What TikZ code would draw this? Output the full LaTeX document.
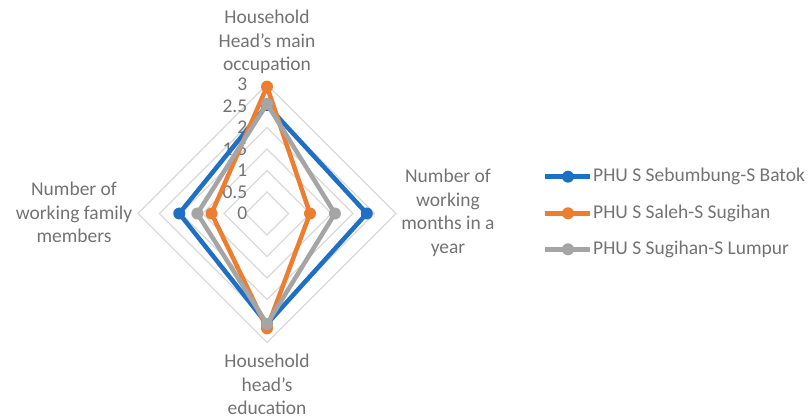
\documentclass[tikz,border=0pt]{standalone}
\usepackage{fontspec}
\setmainfont{Carlito}
\definecolor{sblue}{RGB}{31,112,196}
\definecolor{sorange}{RGB}{237,125,49}
\definecolor{sgray}{RGB}{165,165,165}
\definecolor{gridc}{RGB}{217,217,217}
\definecolor{txtc}{RGB}{115,115,115}
\tikzset{
  gridline/.style={draw=gridc, line width=1.1pt},
  axlabel/.style={text=txtc, align=center, inner sep=0pt, font=\fontsize{19.5}{23.6}\selectfont},
  ticklabel/.style={text=txtc, anchor=east, inner sep=0pt, font=\fontsize{19.5}{23.6}\selectfont},
  legtext/.style={text=txtc, anchor=west, inner sep=0pt, font=\fontsize{19.5}{23.6}\selectfont},
  series/.style={line width=4.5pt, line join=round, line cap=round},
  dot/.style={circle, fill=#1, minimum size=12pt, inner sep=0pt}
}
\begin{document}
\begin{tikzpicture}[x=1pt,y=-1pt]
\useasboundingbox (0,0) rectangle (812,419);
\def\cx{267}
\def\cy{213.5}
\def\u{43}
% grid rings
\foreach \k in {1,...,6}{
  \draw[gridline] (\cx,{\cy-\k*0.5*\u}) -- ({\cx+\k*0.5*\u},\cy) -- (\cx,{\cy+\k*0.5*\u}) -- ({\cx-\k*0.5*\u},\cy) -- cycle;
}
% tick labels
\foreach \v/\t [count=\i] in {0/0,0.5/0.5,1/1,1.5/1.5,2/2,2.5/2.5,3/3}{
  \node[ticklabel] (tick\i) at (247.5,{\cy-\v*\u}) {\t};
}
% axis labels
\node[axlabel] (ltop) at (267,42) {Household\\Head’s main\\occupation};
\node[axlabel] (lleft) at (74,212.5) {Number of\\working family\\members};
\node[axlabel] (lright) at (448,213) {Number of\\working\\months in a\\year};
\node[axlabel] (lbottom) at (267,384.5) {Household\\head’s\\education};
% data coordinates
\foreach \name/\t/\r/\b/\l in {b/2.52/2.32/2.57/2.04, o/2.95/1.00/2.67/1.29, g/2.55/1.58/2.57/1.62}{
  \coordinate (\name1) at (\cx,{\cy-\t*\u});
  \coordinate (\name2) at ({\cx+\r*\u},\cy);
  \coordinate (\name3) at (\cx,{\cy+\b*\u});
  \coordinate (\name4) at ({\cx-\l*\u},\cy);
}
% series
\draw[series, sblue] (b1) -- (b2) -- (b3) -- (b4) -- cycle;
\foreach \i in {1,...,4} \node[dot=sblue] (bm\i) at (b\i) {};
\draw[series, sorange] (o1) -- (o2) -- (o3) -- (o4) -- cycle;
\foreach \i in {1,...,4} \node[dot=sorange] (om\i) at (o\i) {};
\draw[series, sgray] (g1) -- (g2) -- (g3) -- (g4) -- cycle;
\foreach \i in {1,...,4} \node[dot=sgray] (gm\i) at (g\i) {};
% legend
\foreach \name/\col/\y/\t in {lb/sblue/176.7/PHU S Sebumbung-S Batok, lo/sorange/213.3/PHU S Saleh-S Sugihan, lg/sgray/249.3/PHU S Sugihan-S Lumpur}{
  \coordinate (\name a) at (545,\y);
  \coordinate (\name b) at (590,\y);
  \draw[series, \col, line cap=butt] (\name a) -- (\name b);
  \node[dot=\col] (\name m) at (568,\y) {};
  \node[legtext] (\name t) at (593,\y) {\t};
}
\end{tikzpicture}
\end{document}
